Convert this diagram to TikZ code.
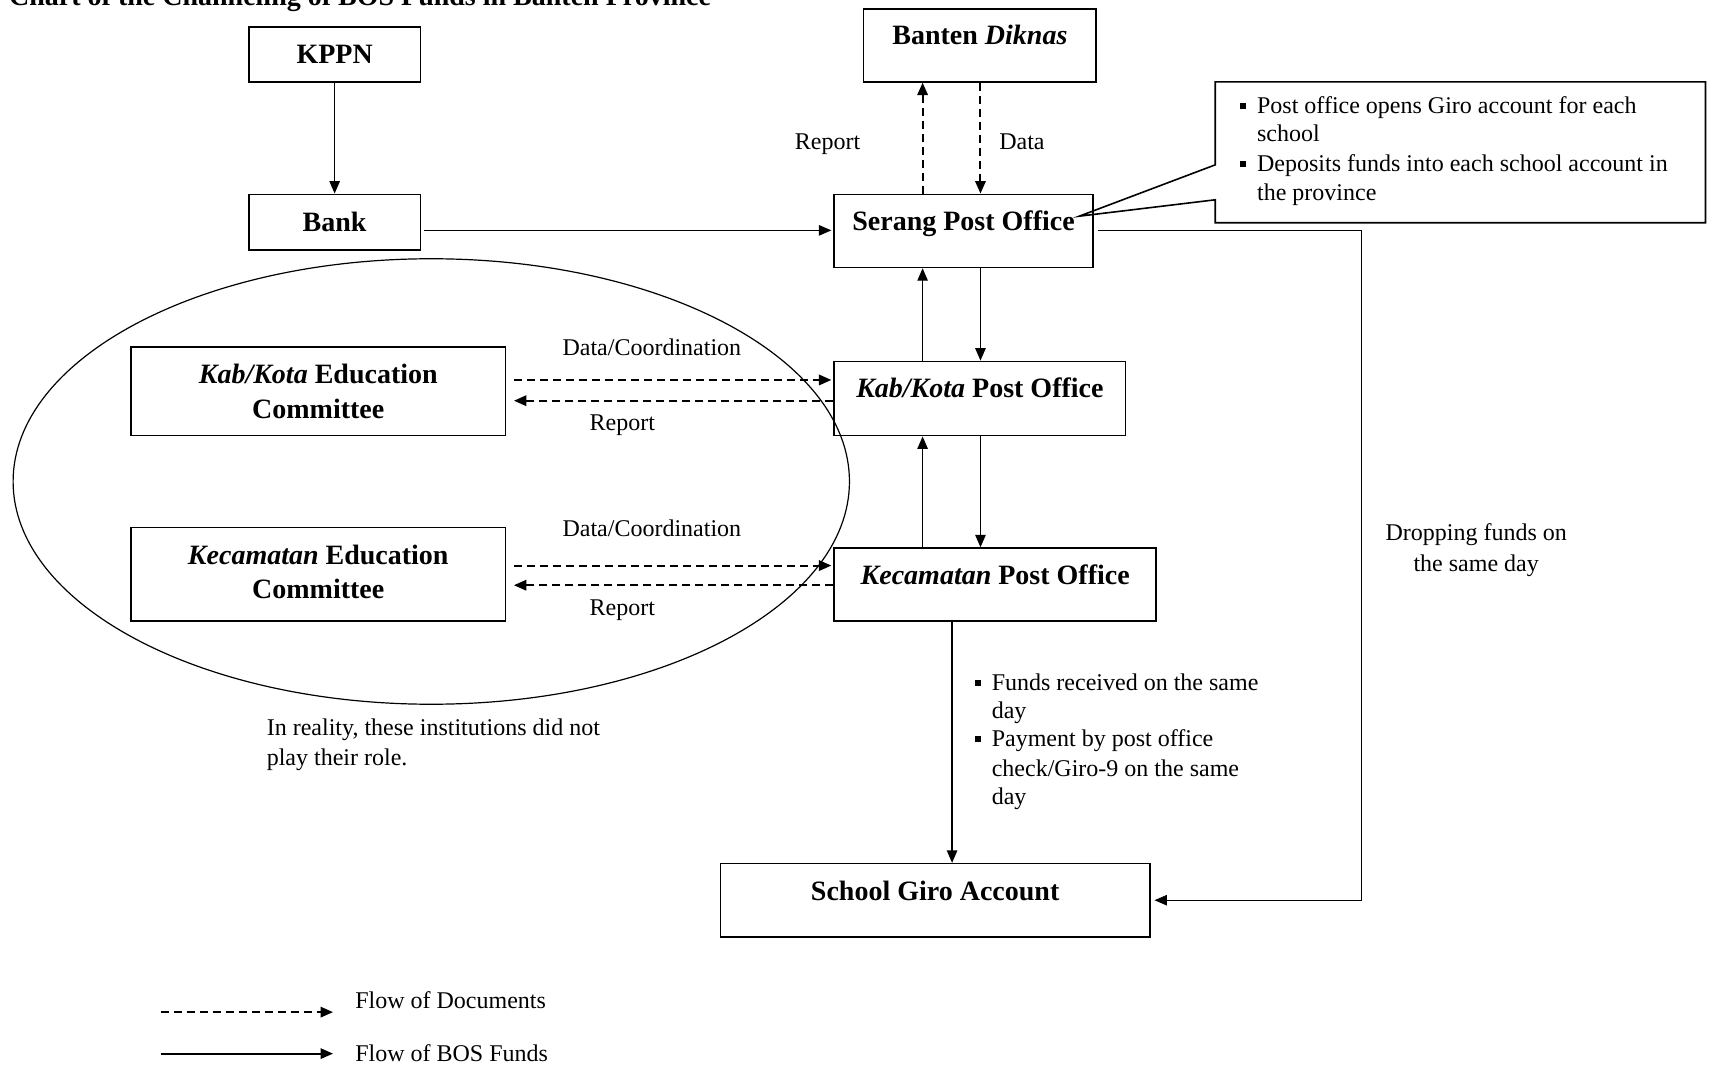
\documentclass[tikz,border=0pt]{standalone}
\usepackage{fontspec}
\setmainfont{Liberation Serif}
\usetikzlibrary{arrows.meta,shapes.geometric}
\newcommand{\sqbul}{\rule[2.2pt]{3pt}{3pt}}
\begin{document}
\begin{tikzpicture}[x=0.5459pt,y=-0.5459pt,
  bx/.style 2 args={draw,line width=0.8pt,minimum width=#1*0.5459pt,minimum height=#2*0.5459pt,inner sep=0pt},
  bt/.style={anchor=base,inner sep=0pt,font=\fontsize{14}{16.8}\selectfont\bfseries},
  tx/.style={anchor=base,inner sep=0pt,font=\fontsize{12}{14.4}\selectfont},
  txl/.style={tx,anchor=base west},
  fund/.style={line width=0.65pt,-{Triangle[length=6.2pt,width=5.2pt]}},
  doc/.style={line width=1pt,dash pattern=on 4pt off 2.5pt,-{Triangle[length=6.2pt,width=5.2pt]}},
]
\useasboundingbox (0,0) rectangle (1568,978);
\clip (0,0) rectangle (1568,978);

% title (cut at top)
\node[bt,anchor=base west] (title) at (8,4.6) {Chart of the Channeling of BOS Funds in Banten Province};

% group ellipse
\node[draw,ellipse,line width=0.6pt,inner sep=0pt,minimum width=766*0.5459pt,minimum height=408*0.5459pt] (grp) at (395,441) {};

% boxes
\node[bx={157}{50}] (kppn) at (306.5,50) {};
\node[bt] (kppnT) at (306.5,58) {KPPN};
\node[bx={157}{51}] (bank) at (306.5,203.5) {};
\node[bt] (bankT) at (306.5,212) {Bank};
\node[bx={213}{67}] (diknas) at (897.5,41.5) {};
\node[bt] (diknasT) at (897.5,41) {Banten \textit{Diknas}};
\node[bx={237}{67}] (serang) at (882.5,211.5) {};
\node[bt] (serangT) at (882.5,211) {Serang Post Office};
\node[bx={267}{68}] (kabpo) at (897.5,365) {};
\node[bt] (kabpoT) at (897.5,364) {\textit{Kab/Kota} Post Office};
\node[bx={295}{67}] (kecpo) at (911.5,535.5) {};
\node[bt] (kecpoT) at (911.5,535) {\textit{Kecamatan} Post Office};
\node[bx={393}{67}] (giro) at (856.5,824.5) {};
\node[bt] (giroT) at (856.5,825) {School Giro Account};
\node[bx={343}{81}] (kabec) at (291.5,358.5) {};
\node[bt] (kabecT1) at (291.5,351) {\textit{Kab/Kota} Education};
\node[bt] (kabecT2) at (291.5,383) {Committee};
\node[bx={343}{86}] (kecec) at (291.5,526) {};
\node[bt] (kececT1) at (291.5,517) {\textit{Kecamatan} Education};
\node[bt] (kececT2) at (291.5,548) {Committee};

% callout
\coordinate (ctip) at (988.5,198);
\draw[line width=0.8pt] (1113,75) -- (1562,75) -- (1562,204) -- (1113,204) -- (1113,183) -- (ctip) -- (1113,151) -- cycle;
\node[txl] (cb1) at (1135,104) {\sqbul};
\node[txl] (ct1) at (1151,104) {Post office opens Giro account for each};
\node[txl] (ct2) at (1151,130) {school};
\node[txl] (cb2) at (1135,157) {\sqbul};
\node[txl] (ct3) at (1151,157) {Deposits funds into each school account in};
\node[txl] (ct4) at (1151,184) {the province};

% helper coordinates
\coordinate (xl) at (845,0);
\coordinate (xr) at (898,0);
\coordinate (xm) at (872,0);
\coordinate (yb) at (0,211);
\coordinate (drop) at (1247,211);
\coordinate (y1) at (0,348);
\coordinate (y2) at (0,367);
\coordinate (y3) at (0,518);
\coordinate (y4) at (0,536);

% fund flows
\draw[fund] (kppn.south) -- (bank.north);
\draw[fund,shorten <=1.6pt,shorten >=1pt] (bank.east |- yb) -- (serang.west |- yb);
\draw[fund,shorten >=2pt] ([xshift=2pt]serang.east |- yb) -- (drop) -- (drop |- giro.east) -- (giro.east);
\draw[fund] (kabpo.north -| xl) -- (serang.south -| xl);
\draw[fund] (serang.south -| xr) -- (kabpo.north -| xr);
\draw[fund] (kecpo.north -| xl) -- (kabpo.south -| xl);
\draw[fund] (kabpo.south -| xr) -- (kecpo.north -| xr);
\draw[fund] (kecpo.south -| xm) -- (giro.north -| xm);

% document flows
\draw[doc] (serang.north -| xl) -- (diknas.south -| xl);
\draw[doc] (diknas.south -| xr) -- (serang.north -| xr);
\draw[doc,shorten <=3.8pt,shorten >=1pt] (kabec.east |- y1) -- (kabpo.west |- y1);
\draw[doc,shorten >=3.8pt] (kabpo.west |- y2) -- (kabec.east |- y2);
\draw[doc,shorten <=3.8pt,shorten >=1pt] (kecec.east |- y3) -- (kecpo.west |- y3);
\draw[doc,shorten >=3.8pt] (kecpo.west |- y4) -- (kecec.east |- y4);

% labels
\node[tx] (lrep0) at (758,137) {Report};
\node[tx] (ldata) at (936,137) {Data};
\node[tx] (ldc1) at (597,326) {Data/Coordination};
\node[tx] (lrep1) at (570,394) {Report};
\node[tx] (ldc2) at (597,491) {Data/Coordination};
\node[tx] (lrep2) at (570,564) {Report};
\node[tx] (ldrop1) at (1352,495) {Dropping funds on};
\node[tx] (ldrop2) at (1352,523) {the same day};
\node[txl] (lreal1) at (244,674) {In reality, these institutions did not};
\node[txl] (lreal2) at (244,701) {play their role.};

% bullets near Kecamatan -> Giro
\node[txl] (bb1) at (893,632) {\sqbul};
\node[txl] (bt1) at (908,632) {Funds received on the same};
\node[txl] (bt2) at (908,658) {day};
\node[txl] (bb2) at (893,684) {\sqbul};
\node[txl] (bt3) at (908,684) {Payment by post office};
\node[txl] (bt4) at (908,711) {check/Giro-9 on the same};
\node[txl] (bt5) at (908,737) {day};

% legend
\coordinate (lga) at (147,927);
\coordinate (lgb) at (305,927);
\coordinate (lgc) at (147,965);
\coordinate (lgd) at (305,965);
\draw[doc] (lga) -- (lgb);
\draw[fund,line width=0.9pt] (lgc) -- (lgd);
\node[txl] (lg1) at (325,924) {Flow of Documents};
\node[txl] (lg2) at (325,972) {Flow of BOS Funds};
\end{tikzpicture}
\end{document}
